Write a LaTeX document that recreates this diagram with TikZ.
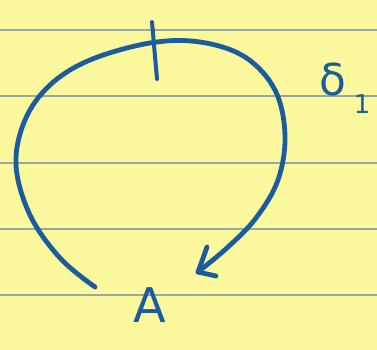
\documentclass[tikz,border=0pt]{standalone}
\usepackage{fontspec}
\newfontfamily\handfont{DejaVu Sans}
\definecolor{paper}{RGB}{251,248,158}
\definecolor{rule}{RGB}{150,168,162}
\definecolor{ink}{RGB}{26,92,158}
\begin{document}
\begin{tikzpicture}[x=1bp,y=-1bp,
  ruled/.style={draw=rule,line width=1.2bp},
  stroke/.style={draw=ink,line width=4.8bp,line cap=round,line join=round},
  lbl/.style={text=ink,inner sep=0pt,font=\handfont}]
\fill[paper] (0,0) rectangle (377,350);
\useasboundingbox (0,0) rectangle (377,350);
\foreach \y in {30,96,163,229,295}{
  \draw[ruled] (0,\y) -- (377,\y);
}
\coordinate (start) at (95,287);
\coordinate (tip) at (198,272);
\coordinate (armA) at (207,247);
\coordinate (armB) at (216,276);
\coordinate (tickT) at (152,22);
\coordinate (tickB) at (157,79);
\draw[stroke] plot[smooth,tension=0.6] coordinates {(95,287) (60,258) (30,215) (16,165) (25,120) (50,85) (90,60) (150,43) (200,42) (245,57) (275,90) (285,135) (278,180) (256,218) (228,247) (198,272)};
\draw[stroke] (armA) -- (tip) -- (armB);
\draw[stroke,line width=4bp] (tickT) -- (tickB);
\node[lbl,font=\handfont\fontsize{48}{48}\selectfont] (A) at (150,305) {A};
\node[lbl,font=\handfont\fontsize{44}{44}\selectfont] (delta) at (333,80) {δ};
\node[lbl,font=\handfont\fontsize{26}{26}\selectfont] (one) at (362,104) {1};
\end{tikzpicture}
\end{document}
